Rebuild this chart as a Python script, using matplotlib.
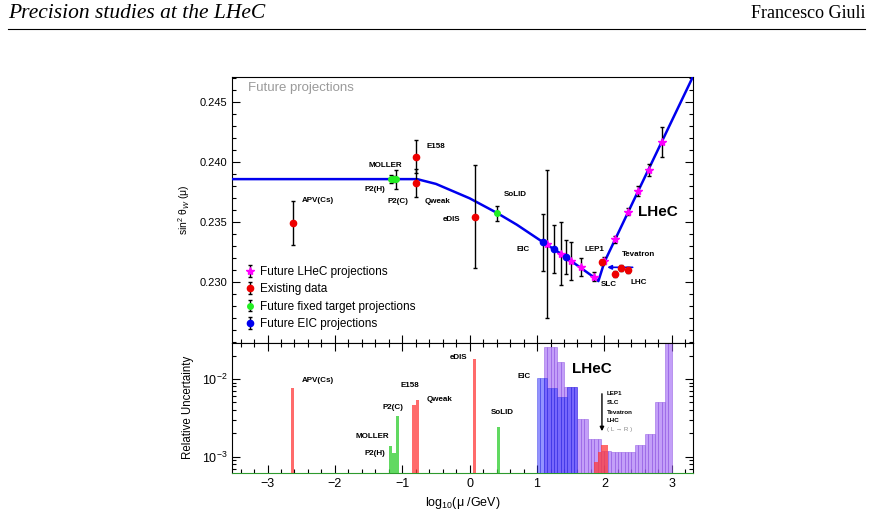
import matplotlib
matplotlib.use('Agg')
import matplotlib.pyplot as plt
from matplotlib.lines import Line2D
from matplotlib.ticker import MultipleLocator, FixedLocator, FormatStrFormatter, LogLocator, NullFormatter
import numpy as np

plt.rcParams['font.family'] = ['Liberation Sans', 'DejaVu Sans']
plt.rcParams['mathtext.fontset'] = 'custom'
plt.rcParams['mathtext.rm'] = 'Liberation Sans'
plt.rcParams['mathtext.it'] = 'Liberation Sans:italic'
plt.rcParams['mathtext.bf'] = 'Liberation Sans:bold'

# ---- running sin^2 theta_W prediction (log10 mu, value) ----
theory_x = [-3.52, -0.78, -0.5, 0.0, 0.4, 0.7, 1.1, 1.35, 1.6, 1.85, 1.91, 2.0, 2.5, 3.31]
theory_y = [0.2386, 0.2386, 0.2382, 0.2370, 0.2358, 0.2348, 0.2333, 0.2324, 0.2314,
            0.2304, 0.2301, 0.2317, 0.2376, 0.2471]

# ---- future LHeC projections ----
lhec_x = [1.147, 1.355, 1.51, 1.656, 1.85, 1.997, 2.16, 2.345, 2.50, 2.654, 2.85]
lhec_y = [0.2332, 0.2324, 0.2318, 0.23125, 0.23047, 0.2318, 0.23358, 0.23588, 0.2376, 0.23936, 0.24172]
lhec_err = [0.0062, 0.0026, 0.0016, 0.00075, 0.00035, 0.0003, 0.0003, 0.0003, 0.0004, 0.0005, 0.00125]

# ---- existing data ----
data_names = ['APV(Cs)', 'Qweak', 'E158', 'eDIS', 'LEP1', 'SLC', 'Tevatron', 'LHC']
data_x = [-2.62, -0.79, -0.79, 0.074, 1.96, 2.155, 2.25, 2.35]
data_y = [0.23494, 0.23825, 0.24047, 0.23547, 0.23166, 0.2307, 0.2312, 0.2310]
data_err = [0.0018, 0.00117, 0.00136, 0.0043, 0.0002, 0.00025, 0.00025, 0.00025]

# ---- future fixed target projections ----
fixed_names = ['MOLLER', 'P2(H)', 'P2(C)', 'SoLID']
fixed_x = [-1.165, -1.13, -1.10, 0.406]
fixed_y = [0.23858, 0.23858, 0.23858, 0.23575]
fixed_err = [0.00033, 0.00026, 0.0008, 0.0006]

# ---- future EIC projections ----
eic_x = [1.088, 1.245, 1.43]
eic_y = [0.23333, 0.23278, 0.2321]
eic_err = [0.0024, 0.0020, 0.0014]

# ---- relative uncertainty histograms (bin left edge, width 0.05) ----
bin_w = 0.05
red_edges = [-2.65, -0.85, -0.80, 0.05, 1.85, 1.90, 1.95, 2.00]
red_vals = [7.6e-3, 4.6e-3, 5.4e-3, 1.81e-2, 8.6e-4, 1.16e-3, 1.41e-3, 1.43e-3]
green_edges = [-1.20, -1.15, -1.10, 0.40]
green_vals = [1.37e-3, 1.10e-3, 3.34e-3, 2.41e-3]
eic_edges = [1.00, 1.05, 1.10, 1.15, 1.20, 1.25, 1.30, 1.35, 1.40, 1.45, 1.50, 1.55]
eic_vals = [1.02e-2, 1.02e-2, 1.02e-2, 7.6e-3, 7.6e-3, 7.6e-3, 5.8e-3, 5.8e-3, 5.8e-3, 7.8e-3, 7.8e-3, 7.8e-3]
lhec_edges = [1.10, 1.15, 1.20, 1.25, 1.30, 1.35, 1.40, 1.45, 1.50, 1.55, 1.60, 1.65, 1.70,
              1.75, 1.80, 1.85, 1.90, 1.95, 2.00, 2.05, 2.10, 2.15, 2.20, 2.25, 2.30, 2.35, 2.40,
              2.45, 2.50, 2.55, 2.60, 2.65, 2.70, 2.75, 2.80, 2.85, 2.90, 2.95]
lhec_vals = [2.56e-2, 2.56e-2, 2.56e-2, 2.56e-2, 1.64e-2, 1.64e-2, 7.8e-3, 7.8e-3, 7.8e-3, 7.8e-3,
             3.03e-3, 3.03e-3, 3.03e-3, 1.71e-3, 1.71e-3, 1.71e-3, 1.71e-3, 1.2e-3, 1.2e-3, 1.2e-3,
             1.14e-3, 1.14e-3, 1.14e-3, 1.14e-3, 1.14e-3, 1.14e-3, 1.14e-3, 1.41e-3, 1.41e-3, 1.41e-3,
             1.96e-3, 1.96e-3, 1.96e-3, 5.1e-3, 5.1e-3, 5.1e-3, 4.0e-2, 4.0e-2]

fig = plt.figure(figsize=(8.72, 5.14), dpi=100)

# page header
fig.text(8 / 872, 1 - 14 / 514, 'Precision studies at the LHeC', family='Liberation Serif',
         style='italic', fontsize=15.5, ha='left', va='center')
fig.text(865 / 872, 1 - 14 / 514, 'Francesco Giuli', family='Liberation Serif',
         fontsize=13, ha='right', va='center')
fig.add_artist(Line2D([8 / 872, 865 / 872], [1 - 29 / 514, 1 - 29 / 514], color='black', lw=0.8))

ax1 = fig.add_axes([0.2666, 0.3333, 0.5278, 0.5169])
ax2 = fig.add_axes([0.2666, 0.0798, 0.5278, 0.2535], sharex=ax1)

ebkw = dict(ecolor='black', elinewidth=1.0, capsize=1.5, capthick=1.0, linestyle='none', zorder=4)

ax1.plot(theory_x, theory_y, color='#0000ee', lw=1.8, zorder=3)
h_lhec = ax1.errorbar(lhec_x, lhec_y, yerr=lhec_err, marker='*', ms=6, color='#ff00ff',
                      mec='#ff00ff', **ebkw)
h_data = ax1.errorbar(data_x, data_y, yerr=data_err, marker='o', ms=4.5, color='#ee0000', **ebkw)
h_fixed = ax1.errorbar(fixed_x, fixed_y, yerr=fixed_err, marker='o', ms=4, color='#22ee22', **ebkw)
h_eic = ax1.errorbar(eic_x, eic_y, yerr=eic_err, marker='o', ms=4.5, color='#0000ee', **ebkw)
ax1.annotate('', xy=(2.0, 0.23125), xytext=(2.46, 0.23125),
             arrowprops=dict(arrowstyle='-|>', color='#0000ee', lw=1.2, mutation_scale=6))

ax1.set_xlim(-3.52, 3.31)
ax1.set_ylim(0.22497, 0.24711)
ax1.yaxis.set_major_locator(FixedLocator([0.230, 0.235, 0.240, 0.245]))
ax1.yaxis.set_minor_locator(MultipleLocator(0.001))
ax1.yaxis.set_major_formatter(FormatStrFormatter('%.3f'))
ax1.xaxis.set_major_locator(MultipleLocator(1))
ax1.xaxis.set_minor_locator(MultipleLocator(0.2))
ax1.tick_params(which='both', direction='in', left=True, right=True, top=False, bottom=True,
                labelbottom=False, labelsize=8)
ax1.tick_params(which='major', length=5.5, width=0.8)
ax1.tick_params(which='minor', length=3, width=0.8)
ax1.set_ylabel('sin$^{2}$ θ$_{W}$ (μ)', fontsize=7.5, labelpad=6)

lab = dict(fontsize=5.8, fontweight='bold', ha='left', va='center')
ax1.text(-2.495, 0.23683, 'APV(Cs)', **lab)
ax1.text(-1.505, 0.23977, 'MOLLER', **lab)
ax1.text(-1.561, 0.23777, 'P2(H)', **lab)
ax1.text(-1.22, 0.23677, 'P2(C)', **lab)
ax1.text(-0.642, 0.2413, 'E158', **lab)
ax1.text(-0.672, 0.23677, 'Qweak', **lab)
ax1.text(-0.405, 0.23525, 'eDIS', **lab)
ax1.text(0.50, 0.23728, 'SoLID', **lab)
ax1.text(0.688, 0.23275, 'EIC', **lab)
ax1.text(1.70, 0.23275, 'LEP1', **lab)
ax1.text(2.264, 0.23228, 'Tevatron', **lab)
ax1.text(1.953, 0.22978, 'SLC', **lab)
ax1.text(2.383, 0.22997, 'LHC', **lab)
ax1.text(2.50, 0.23588, 'LHeC', fontsize=11, fontweight='bold', ha='left', va='center')
ax1.text(-3.296, 0.24619, 'Future projections', fontsize=9.5, color='#9a9a9a', ha='left', va='center')

ax1.legend([h_lhec, h_data, h_fixed, h_eic],
           ['Future LHeC projections', 'Existing data', 'Future fixed target projections',
            'Future EIC projections'],
           loc='lower left', bbox_to_anchor=(0.014, 0.03), frameon=False, fontsize=8.5,
           handlelength=1.0, handletextpad=0.4, labelspacing=0.45, borderaxespad=0)

# ---- lower panel ----
ax2.bar(lhec_edges, lhec_vals, width=bin_w, align='edge', color='#a46cf5', alpha=0.65,
        edgecolor='#8a4fe0', lw=0.5, zorder=2)
ax2.bar(eic_edges, eic_vals, width=bin_w, align='edge', color='#3a3aff', alpha=0.55,
        edgecolor='#2a2ae0', lw=0.5, zorder=3)
ax2.bar(red_edges, red_vals, width=bin_w, align='edge', color='#ff3a3a', alpha=0.75, lw=0, zorder=4)
ax2.bar(green_edges, green_vals, width=bin_w, align='edge', color='#3ad03a', alpha=0.8, lw=0, zorder=4)

ax2.set_yscale('log')
ax2.set_ylim(6.17e-4, 2.93e-2)
ax2.yaxis.set_major_locator(LogLocator(base=10, numticks=10))
ax2.yaxis.set_minor_locator(LogLocator(base=10, subs=np.arange(2, 10), numticks=20))
ax2.yaxis.set_minor_formatter(NullFormatter())
ax2.tick_params(which='both', direction='in', left=True, right=True, top=True, bottom=True,
                labelsize=9)
ax2.tick_params(which='major', length=5.5, width=0.8)
ax2.tick_params(which='minor', length=3, width=0.8)
ax2.spines['bottom'].set_color('#2e9a2e')
ax2.set_xlabel('log$_{10}$(μ /GeV)', fontsize=9, labelpad=4)
ax2.set_ylabel('Relative Uncertainty', fontsize=8.3, labelpad=6)

ax2.text(-2.495, 9.5e-3, 'APV(Cs)', **lab)
ax2.text(-1.027, 8.13e-3, 'E158', **lab)
ax2.text(-1.294, 4.33e-3, 'P2(C)', **lab)
ax2.text(-0.642, 5.37e-3, 'Qweak', **lab)
ax2.text(-1.695, 1.81e-3, 'MOLLER', **lab)
ax2.text(-1.561, 1.11e-3, 'P2(H)', **lab)
ax2.text(-0.301, 1.9e-2, 'eDIS', **lab)
ax2.text(0.307, 3.73e-3, 'SoLID', **lab)
ax2.text(0.703, 1.09e-2, 'EIC', **lab)
ax2.text(1.518, 1.35e-2, 'LHeC', fontsize=11, fontweight='bold', ha='left', va='center')
ax2.annotate('', xy=(1.963, 1.96e-3), xytext=(1.963, 7.0e-3),
             arrowprops=dict(arrowstyle='-|>', color='black', lw=1.0, mutation_scale=6))
small = dict(fontsize=4.5, fontweight='bold', ha='left', va='center')
ax2.text(2.037, 6.54e-3, 'LEP1', **small)
ax2.text(2.037, 4.95e-3, 'SLC', **small)
ax2.text(2.037, 3.73e-3, 'Tevatron', **small)
ax2.text(2.037, 2.94e-3, 'LHC', **small)
ax2.text(2.037, 2.25e-3, '( L → R )', fontsize=4.5, color='#888888', ha='left', va='center')

fig.savefig('out.png', dpi=100)
